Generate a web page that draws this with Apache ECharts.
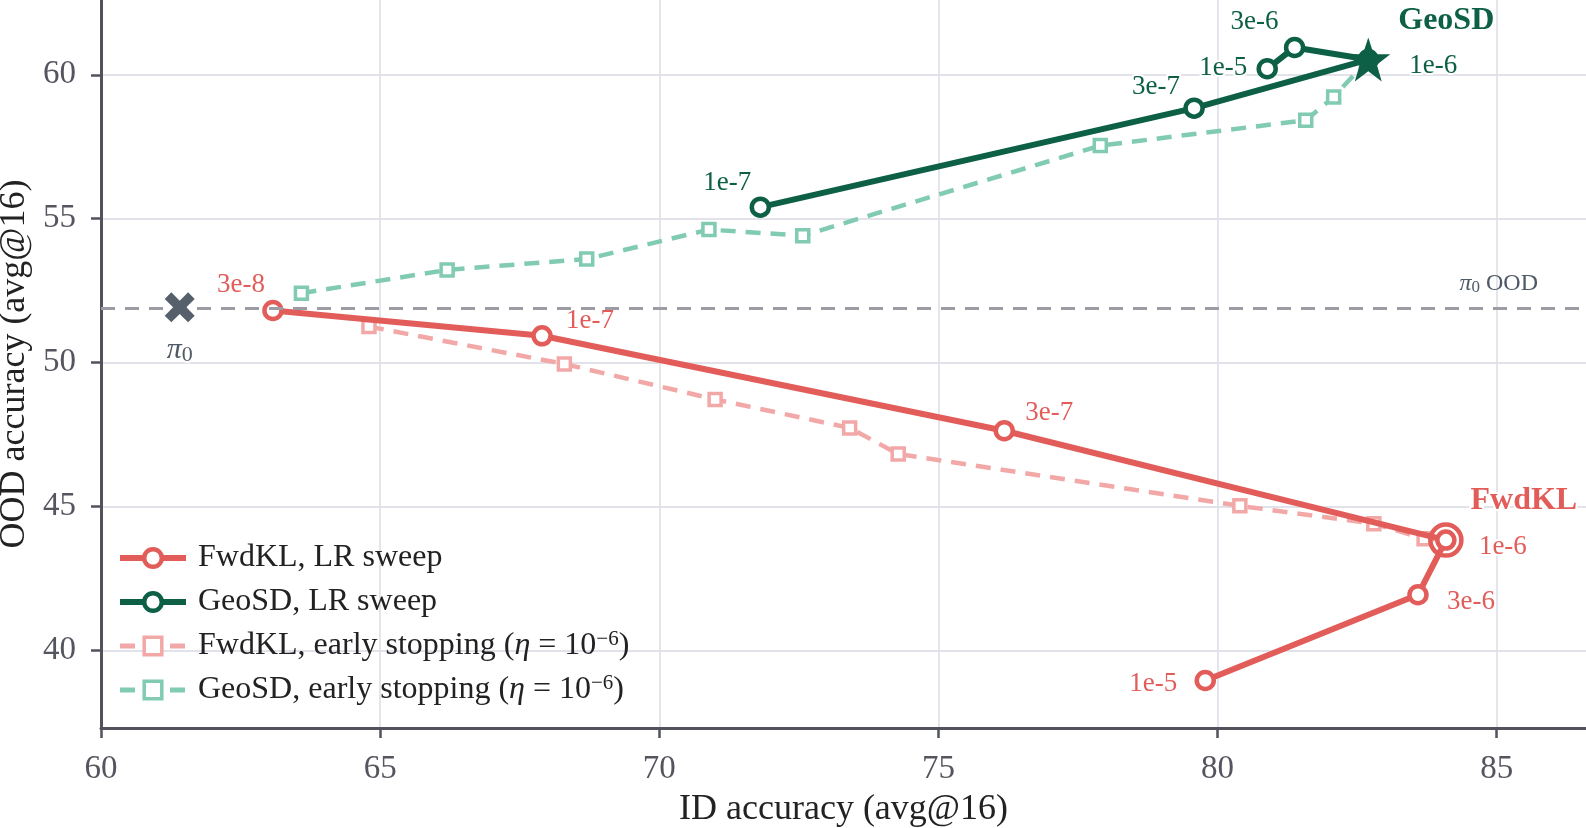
<!DOCTYPE html>
<html><head><meta charset="utf-8">
<script src="https://cdn.jsdelivr.net/npm/echarts@6/dist/echarts.min.js"></script>
<style>html,body{margin:0;padding:0;background:#fff}#c{width:1586px;height:828px}</style>
</head><body><div id="c"></div>
<script>
// ---- data ----
const fwdLR_x = [63.08, 67.90, 76.18, 84.09, 83.59, 79.78];
const fwdLR_y = [51.81, 50.93, 47.63, 43.83, 41.93, 38.95];
const fwdLR_lr = ['3e-8', '1e-7', '3e-7', '1e-6', '3e-6', '1e-5'];
const geoLR_x = [71.81, 79.58, 82.70, 81.38, 80.89];
const geoLR_y = [55.40, 58.84, 60.53, 60.95, 60.21];
const geoLR_lr = ['1e-7', '3e-7', '1e-6', '3e-6', '1e-5'];
const fwdES_x = [64.80, 68.30, 71.00, 73.41, 74.28, 80.40, 82.80, 83.70, 84.09];
const fwdES_y = [51.25, 49.95, 48.72, 47.73, 46.82, 45.02, 44.40, 43.88, 43.83];
const geoES_x = [63.59, 66.20, 68.70, 70.89, 72.57, 77.90, 81.58, 82.08, 82.70];
const geoES_y = [52.41, 53.22, 53.60, 54.62, 54.41, 57.54, 58.42, 59.23, 60.53];
const pi0_x = 61.41, pi0_y = 51.92;
const pi0_ood = 51.9;
const xTicks = [60, 65, 70, 75, 80, 85];
const yTicks = [40, 45, 50, 55, 60];
const seriesNames = ['FwdKL, LR sweep', 'GeoSD, LR sweep', 'FwdKL, early stopping', 'GeoSD, early stopping'];

// ---- layout / style (not data) ----
const RED = '#e25d5a', DGREEN = '#0d5f45', PINK = '#f2a8a6', LGREEN = '#80cbb1';
const FONT = '"Liberation Serif", "Times New Roman", serif';
const fwdOff = [[-32, -26], [48, -15], [45, -18], [57, 7], [53, 7], [-52, 3]];
const geoOff = [[-33, -24], [-38, -21], [65, 6], [-40, -26], [-44, -1]];
const STAR = 'path://M50,0 L61.8,35.1 L98.1,35.1 L68.8,56.7 L79.4,91.9 L50,70.3 L20.6,91.9 L31.2,56.7 L1.9,35.1 L38.2,35.1 Z';
const CROSS = 'path://M2.2,0 L5,2.8 L7.8,0 L10,2.2 L7.2,5 L10,7.8 L7.8,10 L5,7.2 L2.2,10 L0,7.8 L2.8,5 L0,2.2 Z';

function lrItems(xs, ys, labels, offs, color) {
  return xs.map((x, i) => ({
    value: [x, ys[i]],
    label: {
      show: true, formatter: labels[i], position: 'inside', offset: offs[i],
      align: 'center', verticalAlign: 'middle',
      color: color, fontSize: 27, fontFamily: FONT,
      textBorderColor: '#fff', textBorderWidth: 4
    }
  }));
}

const LF = 32;
const esLegendRich = {
  n: { fontSize: LF, fontFamily: FONT, color: '#222' },
  it: { fontSize: LF, fontFamily: FONT, fontStyle: 'italic', color: '#222' },
  sup: { fontSize: 21, fontFamily: FONT, color: '#222', padding: [0, 0, 14, 0] }
};

const chart = echarts.init(document.getElementById('c'), null, { renderer: 'canvas' });
chart.setOption({
  animation: false,
  backgroundColor: '#fff',
  grid: { left: 101, right: 0, top: 0, bottom: 100, containLabel: false, outerBoundsMode: 'none' },
  xAxis: {
    type: 'value', min: 60, max: 86.6,
    name: 'ID accuracy (avg@16)', nameLocation: 'middle', nameGap: 64,
    nameTextStyle: { fontFamily: FONT, fontSize: 36, color: '#222' },
    axisLine: { show: true, onZero: false, lineStyle: { color: '#52525c', width: 3 } },
    axisTick: { show: true, length: 10, customValues: xTicks, lineStyle: { color: '#52525c', width: 2.5 } },
    axisLabel: { customValues: xTicks, margin: 25, fontFamily: FONT, fontSize: 33, color: '#55555f' },
    splitLine: { show: true, lineStyle: { color: '#e2e2ea', width: 1.8 } }
  },
  yAxis: {
    type: 'value', min: 37.3, max: 62.6,
    name: 'OOD accuracy (avg@16)', nameLocation: 'middle', nameGap: 64,
    nameTextStyle: { fontFamily: FONT, fontSize: 36, color: '#222' },
    axisLine: { show: true, onZero: false, lineStyle: { color: '#52525c', width: 3 } },
    axisTick: { show: true, length: 10, customValues: yTicks, lineStyle: { color: '#52525c', width: 2.5 } },
    axisLabel: { customValues: yTicks, margin: 25, fontFamily: FONT, fontSize: 33, color: '#55555f' },
    splitLine: { show: true, lineStyle: { color: '#e2e2ea', width: 1.8 } }
  },
  legend: {
    orient: 'vertical', left: 112, top: 533,
    itemWidth: 66, itemHeight: 22, itemGap: 4,
    data: [
      { name: seriesNames[0], lineStyle: { width: 6 }, itemStyle: { borderWidth: 4.5 } },
      { name: seriesNames[1], lineStyle: { width: 6 }, itemStyle: { borderWidth: 4.5 } },
      { name: seriesNames[2], lineStyle: { width: 5 }, itemStyle: { borderWidth: 3.5 } },
      { name: seriesNames[3], lineStyle: { width: 5 }, itemStyle: { borderWidth: 3.5 } }
    ],
    textStyle: { fontFamily: FONT, fontSize: LF, color: '#222', lineHeight: 40, padding: [0, 0, 0, 7], rich: esLegendRich },
    formatter: function (name) {
      if (name.indexOf('early') >= 0) {
        return '{n|' + name + ' (}{it|η}{n| = 10}{sup|−6}{n|)}';
      }
      return name;
    }
  },
  series: [
    {
      name: seriesNames[3], type: 'line', z: 2,
      data: geoES_x.map((x, i) => ({ value: [x, geoES_y[i]], symbol: i === geoES_x.length - 1 ? 'none' : 'rect' })),
      symbol: 'rect', symbolSize: 12,
      lineStyle: { color: LGREEN, width: 4.5, type: [15, 10] },
      itemStyle: { color: '#fff', borderColor: LGREEN, borderWidth: 3.5 }
    },
    {
      name: seriesNames[2], type: 'line', z: 2,
      data: fwdES_x.map((x, i) => ({ value: [x, fwdES_y[i]], symbol: i === fwdES_x.length - 1 ? 'none' : 'rect' })),
      symbol: 'rect', symbolSize: 12,
      lineStyle: { color: PINK, width: 4.5, type: [15, 10] },
      itemStyle: { color: '#fff', borderColor: PINK, borderWidth: 3.5 },
      markLine: {
        silent: true, symbol: 'none', animation: false,
        lineStyle: { color: '#9c9ca4', width: 3, type: [14, 10] },
        label: {
          show: true, position: 'insideEndTop', distance: [48, 12],
          formatter: '{pi|π}{sub|0}{t| OOD}',
          rich: {
            pi: { fontFamily: FONT, fontStyle: 'italic', fontSize: 24, color: '#4f5a66' },
            sub: { fontFamily: FONT, fontSize: 17, color: '#4f5a66', padding: [8, 0, 0, 0] },
            t: { fontFamily: FONT, fontSize: 24, color: '#4f5a66' }
          }
        },
        data: [{ yAxis: pi0_ood }]
      }
    },
    {
      name: seriesNames[0], type: 'line', z: 4,
      data: lrItems(fwdLR_x, fwdLR_y, fwdLR_lr, fwdOff, RED),
      symbol: 'circle', symbolSize: 17,
      lineStyle: { color: RED, width: 6 },
      itemStyle: { color: '#fff', borderColor: RED, borderWidth: 4.5 }
    },
    {
      name: seriesNames[1], type: 'line', z: 4,
      data: lrItems(geoLR_x, geoLR_y, geoLR_lr, geoOff, DGREEN),
      symbol: 'circle', symbolSize: 17,
      lineStyle: { color: DGREEN, width: 6 },
      itemStyle: { color: '#fff', borderColor: DGREEN, borderWidth: 4.5 }
    },
    {
      name: 'fwd-best', type: 'scatter', z: 5,
      data: [[fwdLR_x[3], fwdLR_y[3]]],
      symbol: 'circle', symbolSize: 31,
      itemStyle: { color: 'rgba(255,255,255,0)', borderColor: RED, borderWidth: 4.5, opacity: 1 },
      label: {
        show: true, formatter: 'FwdKL', position: 'inside', offset: [78, -39],
        fontFamily: FONT, fontWeight: 'bold', fontSize: 32, color: RED,
        textBorderColor: '#fff', textBorderWidth: 4
      }
    },
    {
      name: 'geo-best', type: 'scatter', z: 6,
      data: [[geoLR_x[2], geoLR_y[2]]],
      symbol: STAR, symbolSize: 44,
      itemStyle: { color: DGREEN, opacity: 1 },
      label: {
        show: true, formatter: 'GeoSD', position: 'inside', offset: [78, -39],
        fontFamily: FONT, fontWeight: 'bold', fontSize: 32, color: DGREEN,
        textBorderColor: '#fff', textBorderWidth: 4
      }
    },
    {
      name: 'pi0', type: 'scatter', z: 6,
      data: [[pi0_x, pi0_y]],
      symbol: CROSS, symbolSize: 30,
      itemStyle: { color: '#56606c', opacity: 1 },
      label: {
        show: true, position: 'inside', offset: [0, 43],
        formatter: '{pi|π}{sub|0}',
        rich: {
          pi: { fontFamily: FONT, fontStyle: 'italic', fontSize: 30, color: '#4f5a66', textBorderColor: '#fff', textBorderWidth: 4 },
          sub: { fontFamily: FONT, fontSize: 22, color: '#4f5a66', padding: [10, 0, 0, 0], textBorderColor: '#fff', textBorderWidth: 4 }
        }
      }
    }
  ]
});
</script>
</body></html>
